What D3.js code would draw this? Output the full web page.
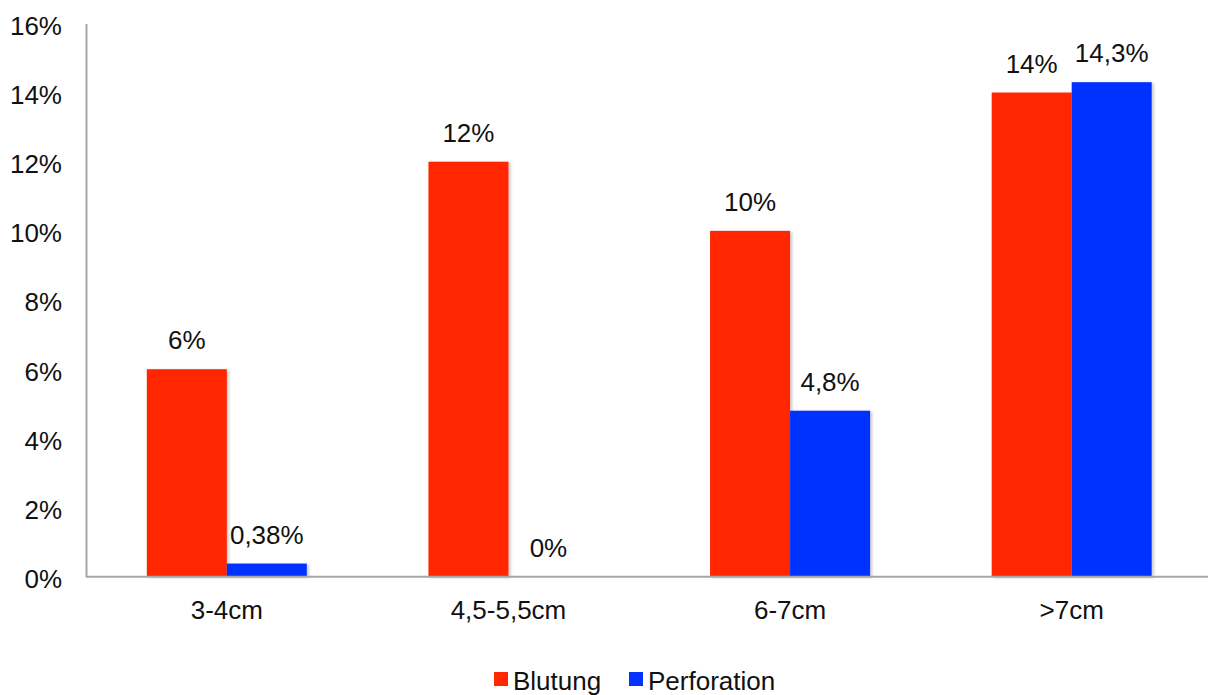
<!DOCTYPE html>
<html><head><meta charset="utf-8">
<script src="https://cdn.jsdelivr.net/npm/d3@7"></script>
<style>
html,body{margin:0;padding:0;background:#fff;}
svg{display:block;font-family:"Liberation Sans",Arial,sans-serif;}
</style></head>
<body>
<script>
const categories = ["3-4cm", "4,5-5,5cm", "6-7cm", ">7cm"];
const seriesNames = ["Blutung", "Perforation"];
const blutung = [6, 12, 10, 14];
const perforation = [0.38, 0, 4.8, 14.3];
const blutungLabels = ["6%", "12%", "10%", "14%"];
const perforationLabels = ["0,38%", "0%", "4,8%", "14,3%"];
const yTicks = [0, 2, 4, 6, 8, 10, 12, 14, 16];
const colors = ["#FF2600", "#0433FF"];

const W = 1208, H = 695;
const svg = d3.select("body").append("svg").attr("width", W).attr("height", H);

const defs = svg.append("defs");
const f = defs.append("filter").attr("id","sh").attr("x","-10%").attr("y","-10%").attr("width","130%").attr("height","130%");
f.append("feDropShadow").attr("dx",2).attr("dy",1).attr("stdDeviation",1.5).attr("flood-color","#000").attr("flood-opacity",0.22);

const x0 = d3.scaleBand().domain(categories).range([86, 1212.5]).padding(0);
const groupW = 160;
const x1 = d3.scaleBand().domain(seriesNames).range([0, groupW]).padding(0);
const y = d3.scaleLinear().domain([0, 16]).range([576.7, 23.4]);

const data = categories.map((c, i) => ({
  cat: c,
  vals: [
    {s: seriesNames[0], v: blutung[i], label: blutungLabels[i], color: colors[0]},
    {s: seriesNames[1], v: perforation[i], label: perforationLabels[i], color: colors[1]}
  ]
}));

const off = (x0.bandwidth() - groupW) / 2;
const g = svg.selectAll("g.grp").data(data).enter().append("g")
  .attr("transform", d => `translate(${x0(d.cat) + off},0)`);

g.selectAll("rect").data(d => d.vals.filter(v => v.v > 0)).enter().append("rect")
  .attr("x", d => x1(d.s))
  .attr("width", x1.bandwidth())
  .attr("y", d => y(d.v))
  .attr("height", d => y(0) - y(d.v))
  .attr("fill", d => d.color)
  .attr("filter", "url(#sh)");

g.selectAll("text").data(d => d.vals).enter().append("text")
  .attr("x", d => x1(d.s) + x1.bandwidth() / 2)
  .attr("y", d => y(d.v) - 20)
  .attr("text-anchor", "middle")
  .attr("font-size", 26)
  .attr("fill", "#111")
  .text(d => d.label);

// axes
const yAxis = d3.axisLeft(y).tickValues(yTicks).tickSize(0).tickPadding(24)
  .tickFormat(d => d + "%");
const ya = svg.append("g").attr("transform", "translate(86,0)").call(yAxis);
ya.select(".domain").attr("stroke", "#a6a6a6").attr("stroke-width", 2);
ya.selectAll("text").attr("font-size", 26).attr("fill", "#111")
  .attr("font-family", "Liberation Sans, Arial, sans-serif").attr("dy", "0.42em");

const xAxis = d3.axisBottom(x0).tickSize(0).tickPadding(24);
const xa = svg.append("g").attr("transform", `translate(0,${y(0)})`).call(xAxis);
xa.select(".domain").remove();
xa.selectAll("text").attr("font-size", 26).attr("fill", "#111")
  .attr("font-family", "Liberation Sans, Arial, sans-serif").attr("dy", "0.71em");
svg.append("line").attr("x1", 86).attr("x2", W).attr("y1", y(0)).attr("y2", y(0))
  .attr("stroke", "#a6a6a6").attr("stroke-width", 2);

// legend
const legX = [494, 629];
const lg = svg.selectAll("g.leg").data(seriesNames).enter().append("g")
  .attr("transform", (d, i) => `translate(${legX[i]},672)`);
lg.append("rect").attr("width", 14).attr("height", 14).attr("fill", (d, i) => colors[i]);
lg.append("text").attr("x", 19).attr("y", 18).attr("font-size", 26).attr("fill", "#111").text(d => d);
</script>
</body></html>
